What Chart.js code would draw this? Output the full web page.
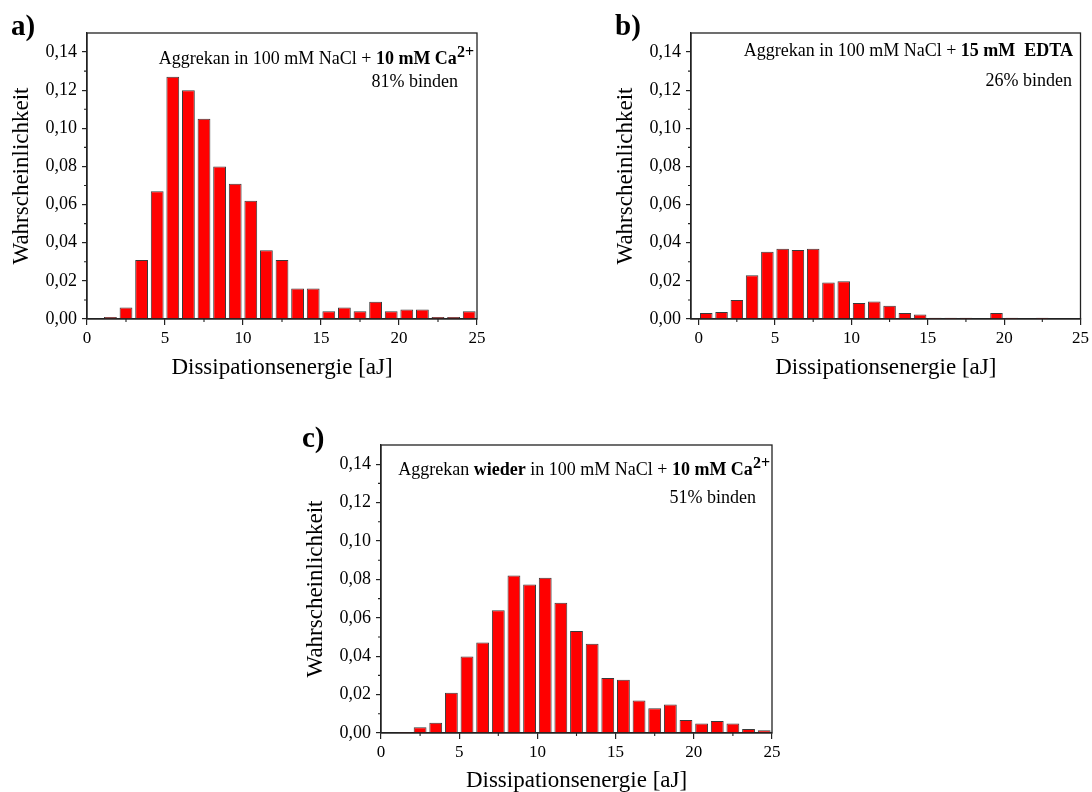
<!DOCTYPE html>
<html>
<head>
<meta charset="utf-8">
<script src="https://cdn.jsdelivr.net/npm/chart.js@4.4.1/dist/chart.umd.min.js"></script>
<style>
  html, body { margin: 0; padding: 0; background: #fff; }
  #page { position: relative; width: 1092px; height: 792px; overflow: hidden; font-family: "Liberation Serif", "Times New Roman", serif; color: #000; }
  .box { position: absolute; }
  .lbl { position: absolute; font-weight: bold; font-size: 29px; line-height: 29px; }
  .note { position: absolute; font-size: 18px; line-height: 18px; text-align: right; white-space: pre; }
  .note b { font-weight: bold; }
  .note sup { font-size: 16px; font-weight: bold; position: relative; top: -7px; vertical-align: baseline; line-height: 0; }
</style>
</head>
<body>
<div id="page">
  <div class="box" style="left:0px;top:0px;width:500px;height:385px"><canvas id="chartA"></canvas></div>
  <div class="box" style="left:604px;top:0px;width:488px;height:385px"><canvas id="chartB"></canvas></div>
  <div class="box" style="left:294px;top:412px;width:490px;height:380px"><canvas id="chartC"></canvas></div>

  <div class="lbl" style="left:11px;top:11px">a)</div>
  <div class="lbl" style="left:615px;top:11px">b)</div>
  <div class="lbl" style="left:302px;top:423px">c)</div>

  <div class="note" style="right:618px;top:49px">Aggrekan in 100 mM NaCl + <b>10 mM Ca</b><sup>2+</sup></div>
  <div class="note" style="right:634px;top:72px">81% binden</div>

  <div class="note" style="right:19px;top:41px">Aggrekan in 100 mM NaCl + <b>15 mM  EDTA</b></div>
  <div class="note" style="right:20px;top:71px">26% binden</div>

  <div class="note" style="right:322px;top:460px">Aggrekan <b>wieder</b> in 100 mM NaCl + <b>10 mM Ca</b><sup>2+</sup></div>
  <div class="note" style="right:336px;top:488px">51% binden</div>
</div>

<script>
// bin centres in aJ (1 aJ wide bins)
const binCenters = [0.5, 1.5, 2.5, 3.5, 4.5, 5.5, 6.5, 7.5, 8.5, 9.5, 10.5, 11.5, 12.5,
  13.5, 14.5, 15.5, 16.5, 17.5, 18.5, 19.5, 20.5, 21.5, 22.5, 23.5, 24.5];

// a) Aggrekan in 100 mM NaCl + 10 mM Ca2+
const probCa = [null, 0.001, 0.006, 0.031, 0.067, 0.127, 0.120, 0.105, 0.080, 0.071, 0.062,
  0.036, 0.031, 0.016, 0.016, 0.004, 0.006, 0.004, 0.009, 0.004, 0.005, 0.005, 0.001, 0.001, 0.004];

// b) Aggrekan in 100 mM NaCl + 15 mM EDTA
const probEdta = [0.0031, 0.0037, 0.0099, 0.023, 0.0353, 0.0369, 0.0362, 0.0369, 0.0191, 0.0198,
  0.0084, 0.0092, 0.007, 0.0031, 0.0023, 0.0007, 0.0007, 0.0007, null, 0.0031, 0.0007, null, 0.0007, null, null];

// c) Aggrekan wieder in 100 mM NaCl + 10 mM Ca2+
const probCaAgain = [null, 0.0005, 0.003, 0.0054, 0.0209, 0.0399, 0.0472, 0.0639, 0.082, 0.0773,
  0.0808, 0.0679, 0.0531, 0.0465, 0.0287, 0.0277, 0.0169, 0.0129, 0.0148, 0.0068, 0.0049, 0.0063,
  0.0049, 0.0021, 0.0014];

const xMinorTicks = [2.5, 7.5, 12.5, 17.5, 22.5];
const yMinorTicks = [0.01, 0.03, 0.05, 0.07, 0.09, 0.11, 0.13];

const xTitle = 'Dissipationsenergie [aJ]';
const yTitle = 'Wahrscheinlichkeit';

Chart.defaults.font.family = '"Liberation Serif", "Times New Roman", serif';
Chart.defaults.color = '#000';

const axisColor = '#222';

// closed frame + short minor ticks, like the Origin plots
const framePlugin = {
  id: 'frame',
  afterDraw(chart) {
    const { ctx, chartArea: a, scales } = chart;
    ctx.save();
    ctx.strokeStyle = axisColor;
    ctx.lineWidth = 1.3;
    ctx.strokeRect(a.left, a.top, a.right - a.left, a.bottom - a.top);
    ctx.lineWidth = 1.1;
    ctx.beginPath();
    xMinorTicks.forEach(v => {
      const px = scales.x.getPixelForValue(v);
      ctx.moveTo(px, a.bottom);
      ctx.lineTo(px, a.bottom + 3);
    });
    yMinorTicks.forEach(v => {
      const py = scales.y.getPixelForValue(v);
      ctx.moveTo(a.left, py);
      ctx.lineTo(a.left - 3, py);
    });
    ctx.stroke();
    ctx.restore();
  }
};

function makeChart(id, values, xMin, rightPad, xAxisHeight, xTitlePad) {
  const points = binCenters.map((x, i) => ({ x: x, y: values[i] }));
  return new Chart(document.getElementById(id), {
    type: 'bar',
    data: {
      datasets: [{
        data: points,
        backgroundColor: '#ff0000',
        borderColor: '#3a3a3a',
        borderWidth: 1,
        categoryPercentage: 1,
        barPercentage: 0.82
      }]
    },
    options: {
      responsive: true,
      maintainAspectRatio: false,
      animation: false,
      layout: { padding: { top: 33, right: rightPad, left: 0, bottom: 0 } },
      plugins: { legend: { display: false }, tooltip: { enabled: false } },
      scales: {
        x: {
          type: 'linear',
          min: xMin,
          max: 25,
          offset: false,
          afterFit: s => { s.height = xAxisHeight; },
          grid: { offset: false, drawOnChartArea: false, drawTicks: true, tickLength: 6, color: axisColor, lineWidth: 1.2 },
          border: { display: true, color: axisColor, width: 1.3 },
          ticks: { stepSize: 5, includeBounds: false, padding: 3, maxRotation: 0, font: { size: 17 }, color: '#000' },
          title: { display: true, text: xTitle, font: { size: 23, lineHeight: 1 }, color: '#000', padding: { top: 0, bottom: xTitlePad } }
        },
        y: {
          min: 0,
          max: 0.15,
          afterFit: s => { s.width = 87; },
          grid: { drawOnChartArea: false, drawTicks: true, tickLength: 5, color: axisColor, lineWidth: 1.2 },
          border: { display: true, color: axisColor, width: 1.3 },
          ticks: {
            stepSize: 0.02,
            includeBounds: false,
            padding: 5,
            font: { size: 18 },
            color: '#000',
            callback: v => v.toFixed(2).replace('.', ',')
          },
          title: { display: true, text: yTitle, font: { size: 23, lineHeight: 1 }, color: '#000', padding: { top: 10, bottom: 0 } }
        }
      }
    },
    plugins: [framePlugin]
  });
}

makeChart('chartA', probCa, 0, 23, 66, 6);
makeChart('chartB', probEdta, -0.5, 11, 66, 6);
makeChart('chartC', probCaAgain, 0, 12, 59, 0);
</script>
</body>
</html>
